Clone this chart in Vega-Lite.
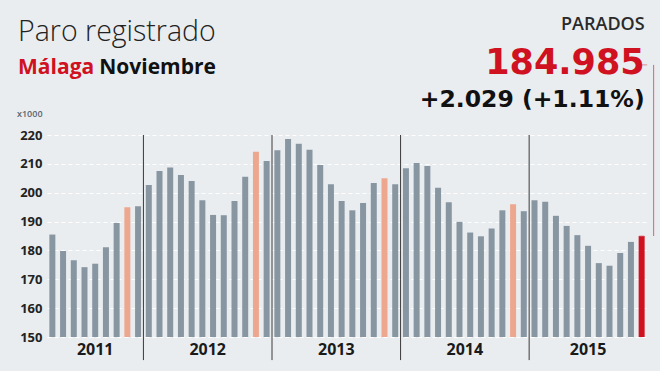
{
  "$schema": "https://vega.github.io/schema/vega-lite/v6.json",
  "autosize": "none",
  "width": 600,
  "height": 202,
  "padding": {"left": 47, "top": 135, "right": 13, "bottom": 34},
  "background": "#e9edf0",
  "config": {
    "view": {"stroke": null},
    "font": "Open Sans",
    "axisY": {"grid": true, "gridDash": [4, 3], "gridColor": "#ffffff", "gridWidth": 1, "domain": false, "ticks": false,
              "labelFont": "Open Sans", "labelFontWeight": "bold", "labelFontSize": 13, "labelColor": "#222222",
              "labelPadding": 5, "labelOverlap": false, "labelFlush": false, "labelBound": false, "title": null,
              "values": [150, 160, 170, 180, 190, 200, 210, 220]}
  },
  "data": {"values": [
    {"month": "2011-04", "parados": 185.5}, {"month": "2011-05", "parados": 179.8}, {"month": "2011-06", "parados": 176.6},
    {"month": "2011-07", "parados": 174.2}, {"month": "2011-08", "parados": 175.4}, {"month": "2011-09", "parados": 181.1},
    {"month": "2011-10", "parados": 189.5}, {"month": "2011-11", "parados": 195.0}, {"month": "2011-12", "parados": 195.3},
    {"month": "2012-01", "parados": 202.7}, {"month": "2012-02", "parados": 207.5}, {"month": "2012-03", "parados": 208.7},
    {"month": "2012-04", "parados": 206.1}, {"month": "2012-05", "parados": 204.1}, {"month": "2012-06", "parados": 197.4},
    {"month": "2012-07", "parados": 192.3}, {"month": "2012-08", "parados": 192.2}, {"month": "2012-09", "parados": 197.1},
    {"month": "2012-10", "parados": 205.5}, {"month": "2012-11", "parados": 214.2}, {"month": "2012-12", "parados": 211.0},
    {"month": "2013-01", "parados": 214.7}, {"month": "2013-02", "parados": 218.6}, {"month": "2013-03", "parados": 217.0},
    {"month": "2013-04", "parados": 214.9}, {"month": "2013-05", "parados": 209.6}, {"month": "2013-06", "parados": 202.9},
    {"month": "2013-07", "parados": 197.1}, {"month": "2013-08", "parados": 193.9}, {"month": "2013-09", "parados": 196.4},
    {"month": "2013-10", "parados": 203.4}, {"month": "2013-11", "parados": 205.0}, {"month": "2013-12", "parados": 202.9},
    {"month": "2014-01", "parados": 208.5}, {"month": "2014-02", "parados": 210.3}, {"month": "2014-03", "parados": 209.3},
    {"month": "2014-04", "parados": 201.7}, {"month": "2014-05", "parados": 196.7}, {"month": "2014-06", "parados": 189.9},
    {"month": "2014-07", "parados": 186.2}, {"month": "2014-08", "parados": 184.9}, {"month": "2014-09", "parados": 187.6},
    {"month": "2014-10", "parados": 193.9}, {"month": "2014-11", "parados": 196.0}, {"month": "2014-12", "parados": 193.6},
    {"month": "2015-01", "parados": 197.4}, {"month": "2015-02", "parados": 196.9}, {"month": "2015-03", "parados": 192.0},
    {"month": "2015-04", "parados": 188.5}, {"month": "2015-05", "parados": 185.3}, {"month": "2015-06", "parados": 181.6},
    {"month": "2015-07", "parados": 175.6}, {"month": "2015-08", "parados": 174.7}, {"month": "2015-09", "parados": 179.1},
    {"month": "2015-10", "parados": 182.956}, {"month": "2015-11", "parados": 184.985}
  ]},
  "layer": [
    {
      "mark": {"type": "bar", "width": {"band": 0.56}},
      "encoding": {
        "x": {"field": "month", "type": "ordinal", "axis": null, "scale": {"paddingInner": 0, "paddingOuter": 0}},
        "y": {"field": "parados", "type": "quantitative", "title": null,
              "scale": {"domain": [150, 220], "nice": false, "zero": false},
              "axis": {"values": [150, 160, 170, 180, 190, 200, 210, 220], "labelOverlap": false, "tickCount": 8}},
        "y2": {"datum": 150},
        "color": {"condition": [
          {"test": "datum.month === '2015-11'", "value": "#d0111f"},
          {"test": "indexof(datum.month, '-11') > 0", "value": "#eca78e"}
        ], "value": "#8896a2"}
      }
    },
    {
      "data": {"values": [{"month": "2012-01"}, {"month": "2013-01"}, {"month": "2014-01"}, {"month": "2015-01"}]},
      "mark": {"type": "rule", "color": "#3a3a3a", "strokeWidth": 1},
      "encoding": {
        "x": {"field": "month", "type": "ordinal", "bandPosition": 0, "axis": null},
        "y": {"datum": 220},
        "y2": {"datum": 142}
      }
    },
    {
      "data": {"values": [{"month": "2011-08", "year": "2011"}, {"month": "2015-06", "year": "2015"}]},
      "mark": {"type": "text", "font": "Open Sans", "fontWeight": "bold", "fontSize": 16, "color": "#1a1a1a", "baseline": "alphabetic", "align": "center"},
      "encoding": {
        "x": {"field": "month", "type": "ordinal", "bandPosition": 0.5, "axis": null},
        "y": {"datum": 143.7},
        "text": {"field": "year"}
      }
    },
    {
      "data": {"values": [{"month": "2012-06", "year": "2012"}, {"month": "2013-06", "year": "2013"}, {"month": "2014-06", "year": "2014"}]},
      "mark": {"type": "text", "font": "Open Sans", "fontWeight": "bold", "fontSize": 16, "color": "#1a1a1a", "baseline": "alphabetic", "align": "center"},
      "encoding": {
        "x": {"field": "month", "type": "ordinal", "bandPosition": 1, "axis": null},
        "y": {"datum": 143.7},
        "text": {"field": "year"}
      }
    },
    {
      "data": {"values": [{}]},
      "mark": {"type": "rule", "color": "#d9646e", "strokeWidth": 1},
      "encoding": {
        "x": {"datum": "2015-11", "type": "ordinal", "bandPosition": 1.62, "axis": null},
        "y": {"datum": 244.3},
        "y2": {"datum": 184.985}
      }
    },
    {
      "data": {"values": [{}]},
      "mark": {"type": "tick", "color": "#d9646e", "thickness": 1, "size": 11, "orient": "horizontal"},
      "encoding": {
        "x": {"datum": "2015-11", "type": "ordinal", "bandPosition": 1.14, "axis": null},
        "y": {"datum": 244.3}
      }
    },
    {
      "data": {"values": [{}]},
      "mark": {"type": "tick", "color": "#d9646e", "thickness": 1, "size": 5, "orient": "horizontal"},
      "encoding": {
        "x": {"datum": "2015-11", "type": "ordinal", "bandPosition": 1.42, "axis": null},
        "y": {"datum": 184.985}
      }
    },
    {
      "data": {"values": [{}]},
      "mark": {"type": "text", "text": "Paro registrado", "font": "Open Sans", "fontWeight": 300, "fontSize": 28.5, "color": "#222222", "align": "left", "baseline": "alphabetic"},
      "encoding": {
        "x": {"datum": "2011-04", "type": "ordinal", "bandPosition": -2.7, "axis": null},
        "y": {"datum": 252.5}
      }
    },
    {
      "data": {"values": [{}]},
      "mark": {"type": "text", "text": "Málaga", "font": "Open Sans", "fontWeight": "bold", "fontSize": 21, "color": "#d0111f", "align": "left", "baseline": "alphabetic"},
      "encoding": {
        "x": {"datum": "2011-04", "type": "ordinal", "bandPosition": -2.7, "axis": null},
        "y": {"datum": 241.3}
      }
    },
    {
      "data": {"values": [{}]},
      "mark": {"type": "text", "text": "Noviembre", "font": "Open Sans", "fontWeight": "bold", "fontSize": 21, "color": "#111111", "align": "left", "baseline": "alphabetic"},
      "encoding": {
        "x": {"datum": "2011-04", "type": "ordinal", "bandPosition": 4.88, "axis": null},
        "y": {"datum": 241.3}
      }
    },
    {
      "data": {"values": [{}]},
      "mark": {"type": "text", "text": "x1000", "font": "Open Sans", "fontWeight": 600, "fontSize": 9, "color": "#5a6670", "align": "left", "baseline": "alphabetic"},
      "encoding": {
        "x": {"datum": "2011-04", "type": "ordinal", "bandPosition": -2.8, "axis": null},
        "y": {"datum": 226.4}
      }
    },
    {
      "data": {"values": [{}]},
      "mark": {"type": "text", "text": "PARADOS", "font": "Open Sans", "fontWeight": 600, "fontSize": 18, "color": "#2a2a2a", "align": "right", "baseline": "alphabetic"},
      "encoding": {
        "x": {"datum": "2015-11", "type": "ordinal", "bandPosition": 0.78, "axis": null},
        "y": {"datum": 256.4}
      }
    },
    {
      "data": {"values": [{}]},
      "mark": {"type": "text", "text": "184.985", "font": "DejaVu Sans", "fontWeight": "bold", "fontSize": 35, "color": "#d0111f", "align": "right", "baseline": "alphabetic"},
      "encoding": {
        "x": {"datum": "2015-11", "type": "ordinal", "bandPosition": 0.78, "axis": null},
        "y": {"datum": 241.0}
      }
    },
    {
      "data": {"values": [{}]},
      "mark": {"type": "text", "text": "+2.029 (+1.11%)", "font": "DejaVu Sans", "fontWeight": "bold", "fontSize": 23.5, "color": "#111111", "align": "right", "baseline": "alphabetic"},
      "encoding": {
        "x": {"datum": "2015-11", "type": "ordinal", "bandPosition": 0.78, "axis": null},
        "y": {"datum": 229.6}
      }
    }
  ]
}
